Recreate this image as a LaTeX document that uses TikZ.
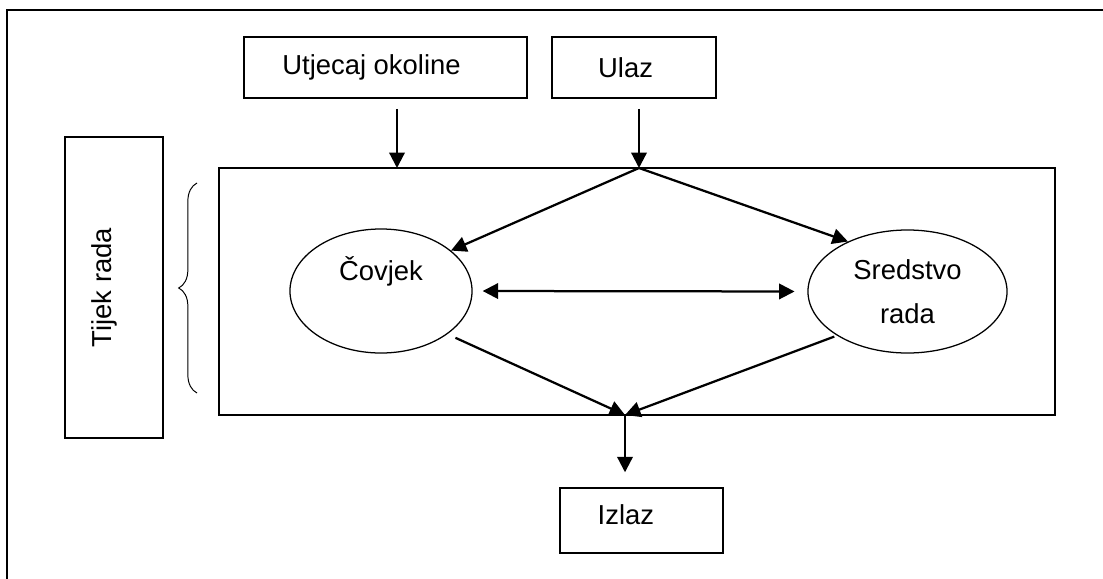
\documentclass[tikz,border=0pt]{standalone}
\usepackage{fontspec}
\setmainfont{Liberation Sans}
\usetikzlibrary{arrows.meta,shapes.geometric,decorations.pathreplacing}

\begin{document}
\begin{tikzpicture}[x=0.025cm,y=-0.025cm,font=\fontsize{19.5}{31}\selectfont,
  box/.style={draw,line width=1.3pt,rectangle,inner sep=0pt},
  oval/.style={draw,line width=0.9pt,ellipse,inner sep=0pt},
  flow/.style={line width=1.6pt,-{Triangle[length=11pt,width=11pt]}}]
\tikzstyle{twoway} = [line width=1.6pt,{Triangle[length=11pt,width=11pt]}-{Triangle[length=11pt,width=11pt]}]

\useasboundingbox (0,0) rectangle (1103,578);

% Frame
\draw[line width=1.5pt] (7,600) -- (7,10) -- (1120,10);

% Boxes
\node[box,minimum width=7.075cm,minimum height=1.525cm,
  label={[xshift=-0.35cm]center:Utjecaj okoline}] (utjecaj) at (385.5,67.5) {};
\node[box,minimum width=4.1cm,minimum height=1.525cm,
  label={[xshift=-0.21cm]center:Ulaz}] (ulaz) at (634,67.5) {};
\node[box,minimum width=20.9cm,minimum height=6.175cm] (sustav) at (637,291.5) {};
\node[box,minimum width=2.45cm,minimum height=7.525cm,
  label={[xshift=-0.25cm,rotate=90]center:Tijek rada}] (tijek) at (114,287.5) {};
\node[box,minimum width=4.075cm,minimum height=1.625cm,
  label={[xshift=-0.39cm,yshift=0.15cm]center:Izlaz}] (izlaz) at (641.5,520.5) {};

% Ellipses
\node[oval,minimum width=4.55cm,minimum height=3.1cm,
  label={[yshift=0.5cm]center:Čovjek}] (covjek) at (381,291) {};
\node[oval,minimum width=4.975cm,minimum height=3.075cm,align=center] (sredstvo) at (907.5,291.5) {Sredstvo\\rada};

% Points on the box
\coordinate (utjecajpt) at (397,168);
\coordinate (ulazpt) at (639,168);
\coordinate (izlazpt) at (625,415);

% Brace
\coordinate (bracebot) at (197,393);
\coordinate (bracetop) at (197,183);
\draw[line width=0.7pt,decorate,decoration={brace,amplitude=13pt}] (bracebot) -- (bracetop);

% Arrows
\draw[flow,shorten <=0.25cm] (utjecaj.south -| utjecajpt) -- (utjecajpt);
\draw[flow,shorten <=0.25cm] (ulaz.south -| ulazpt) -- (ulazpt);
\draw[flow] (ulazpt) -- (covjek.30);
\draw[flow] (ulazpt) -- (sredstvo.140);
\draw[twoway,shorten <=0.25cm,shorten >=0.32cm] (covjek.east) -- (sredstvo.west);
\draw[flow,shorten <=0.22cm] (covjek.-33) -- (izlazpt);
\draw[flow,shorten <=2pt] (sredstvo.-148) -- (izlazpt);
\draw[flow,shorten >=0.37cm] (izlazpt) -- (izlaz.north -| izlazpt);

\end{tikzpicture}
\end{document}
